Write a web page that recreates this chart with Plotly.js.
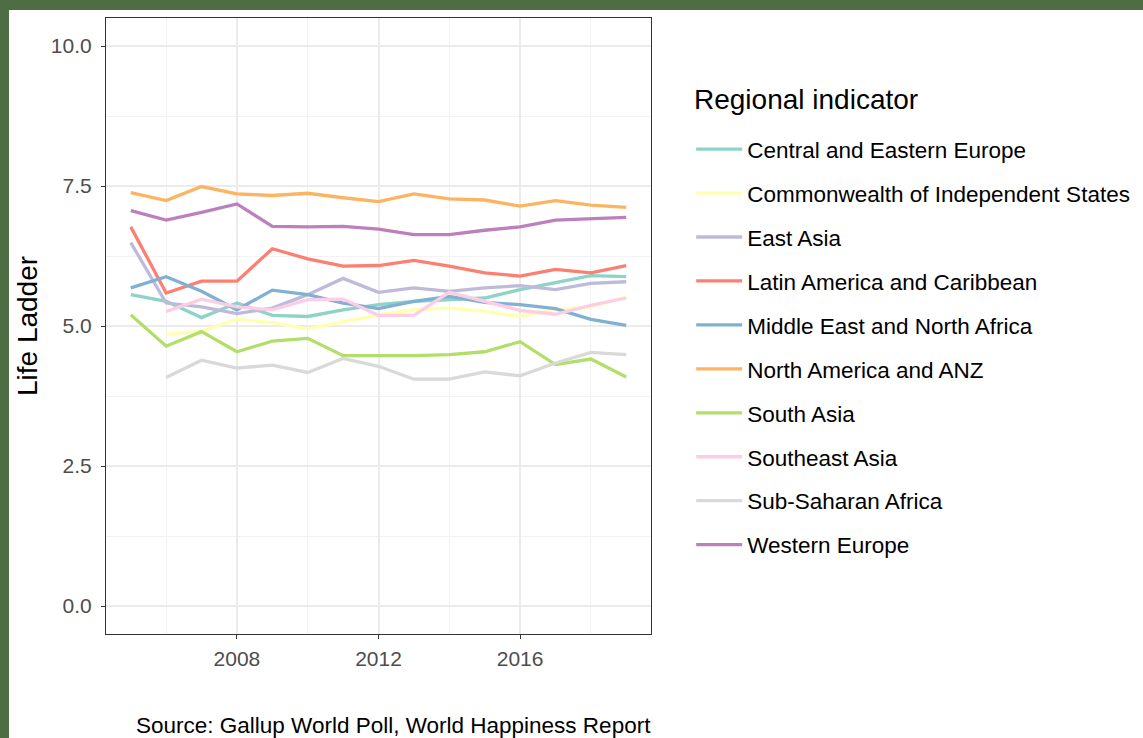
<!DOCTYPE html>
<html>
<head>
<meta charset="utf-8">
<script src="https://cdn.plot.ly/plotly-3.0.1.min.js"></script>
<style>
html, body { margin: 0; padding: 0; width: 1143px; height: 738px; overflow: hidden; background: #4e6d43; }
#chart { position: absolute; left: 9px; top: 10px; width: 1134px; height: 728px; background: #ffffff; }
</style>
</head>
<body>
<div id="chart"></div>
<script>
const years = [2005, 2006, 2007, 2008, 2009, 2010, 2011, 2012, 2013, 2014, 2015, 2016, 2017, 2018, 2019];

const regions = [
  "Central and Eastern Europe",
  "Commonwealth of Independent States",
  "East Asia",
  "Latin America and Caribbean",
  "Middle East and North Africa",
  "North America and ANZ",
  "South Asia",
  "Southeast Asia",
  "Sub-Saharan Africa",
  "Western Europe"
];

const legendTitle = "Regional indicator";

const colors = ["#8DD3C7", "#FFFFB3", "#BEBADA", "#FB8072", "#80B1D3", "#FDB462", "#B3DE69", "#FCCDE5", "#D9D9D9", "#BC80BD"];

const centralEasternEurope = [5.56, 5.44, 5.15, 5.41, 5.19, 5.17, 5.29, 5.38, 5.44, 5.47, 5.50, 5.65, 5.77, 5.90, 5.88];
const commonwealthIndependent = [null, 4.85, 4.91, 5.12, 5.06, 4.95, 5.08, 5.20, 5.29, 5.32, 5.26, 5.17, 5.29, 5.34, 5.52];
const eastAsia = [6.49, 5.41, 5.34, 5.22, 5.32, 5.56, 5.85, 5.60, 5.68, 5.62, 5.68, 5.72, 5.65, 5.76, 5.79];
const latinAmerica = [6.77, 5.59, 5.80, 5.80, 6.38, 6.20, 6.07, 6.08, 6.17, 6.07, 5.95, 5.89, 6.01, 5.95, 6.08];
const middleEast = [5.68, 5.88, 5.62, 5.29, 5.64, 5.56, 5.41, 5.31, 5.44, 5.53, 5.42, 5.38, 5.31, 5.12, 5.01];
const northAmericaANZ = [7.38, 7.24, 7.49, 7.36, 7.33, 7.37, 7.29, 7.22, 7.36, 7.27, 7.25, 7.14, 7.24, 7.16, 7.12];
const southAsia = [5.20, 4.64, 4.90, 4.54, 4.73, 4.78, 4.47, 4.47, 4.47, 4.49, 4.54, 4.72, 4.31, 4.41, 4.09];
const southeastAsia = [null, 5.26, 5.48, 5.34, 5.29, 5.47, 5.48, 5.19, 5.19, 5.60, 5.44, 5.28, 5.21, 5.37, 5.50];
const subSaharanAfrica = [null, 4.08, 4.39, 4.25, 4.30, 4.17, 4.42, 4.28, 4.05, 4.05, 4.18, 4.11, 4.34, 4.53, 4.49];
const westernEurope = [7.06, 6.89, 7.03, 7.18, 6.78, 6.77, 6.78, 6.73, 6.63, 6.63, 6.71, 6.77, 6.89, 6.91, 6.94];

const series = [centralEasternEurope, commonwealthIndependent, eastAsia, latinAmerica, middleEast,
                northAmericaANZ, southAsia, southeastAsia, subSaharanAfrica, westernEurope];

const xTicks = [2008, 2012, 2016];
const yTicks = [0, 2.5, 5, 7.5, 10];

const FONT = "Liberation Sans, Arial, Helvetica, sans-serif";

const traces = regions.map((name, i) => ({
  type: "scatter",
  mode: "lines",
  name: name,
  x: years,
  y: series[i],
  legendgroup: "g" + i,
  line: { color: colors[i], width: 3.3 },
  connectgaps: false,
  hoverinfo: "x+y+name"
}));

const layout = {
  width: 1134,
  height: 728,
  paper_bgcolor: "#ffffff",
  plot_bgcolor: "#ffffff",
  margin: { l: 97, r: 490, t: 8, b: 104 },
  font: { family: FONT, color: "#000000" },
  showlegend: true,
  legend: {
    x: 1.0737, xanchor: "left",
    y: 0.8215, yanchor: "top",
    traceorder: "grouped",
    tracegroupgap: 11.7,
    itemwidth: 46,
    font: { family: FONT, size: 22.5, color: "#000000" },
    bgcolor: "rgba(0,0,0,0)"
  },
  xaxis: {
    range: [2004.3, 2019.7],
    tickmode: "array",
    tickvals: xTicks,
    ticktext: xTicks.map(String),
    ticks: "outside",
    ticklen: 4,
    tickwidth: 1,
    tickcolor: "#333333",
    ticklabelstandoff: 2,
    tickfont: { family: FONT, size: 21, color: "#4d4d4d" },
    showgrid: true,
    gridcolor: "#ebebeb",
    gridwidth: 1.5,
    minor: { tickvals: [2006, 2010, 2014, 2018], showgrid: true, gridcolor: "#f2f2f2", gridwidth: 0.9, ticks: "" },
    showline: true,
    linecolor: "#333333",
    linewidth: 1.2,
    mirror: true,
    zeroline: false
  },
  yaxis: {
    range: [-0.5, 10.5],
    tickmode: "array",
    tickvals: yTicks,
    ticktext: yTicks.map(v => v.toFixed(1)),
    ticks: "outside",
    ticklen: 4,
    tickwidth: 1,
    tickcolor: "#333333",
    ticklabelstandoff: 5,
    tickfont: { family: FONT, size: 21, color: "#4d4d4d" },
    showgrid: true,
    gridcolor: "#ebebeb",
    gridwidth: 1.5,
    minor: { tickvals: [1.25, 3.75, 6.25, 8.75], showgrid: true, gridcolor: "#f2f2f2", gridwidth: 0.9, ticks: "" },
    showline: true,
    linecolor: "#333333",
    linewidth: 1.2,
    mirror: true,
    zeroline: false,
    title: { text: "Life Ladder", font: { family: FONT, size: 28, color: "#000000" }, standoff: 5 }
  },
  annotations: [
    {
      text: legendTitle,
      xref: "paper", yref: "paper",
      x: 1.075, xanchor: "left",
      y: 0.8669, yanchor: "middle",
      showarrow: false,
      font: { family: FONT, size: 28, color: "#000000" }
    },
    {
      text: "Source: Gallup World Poll, World Happiness Report",
      xref: "paper", yref: "paper",
      x: 1.003, xanchor: "right",
      y: -0.149, yanchor: "middle",
      showarrow: false,
      font: { family: FONT, size: 22.5, color: "#000000" }
    }
  ]
};

Plotly.newPlot("chart", traces, layout, { displayModeBar: false, staticPlot: false });
</script>
</body>
</html>
